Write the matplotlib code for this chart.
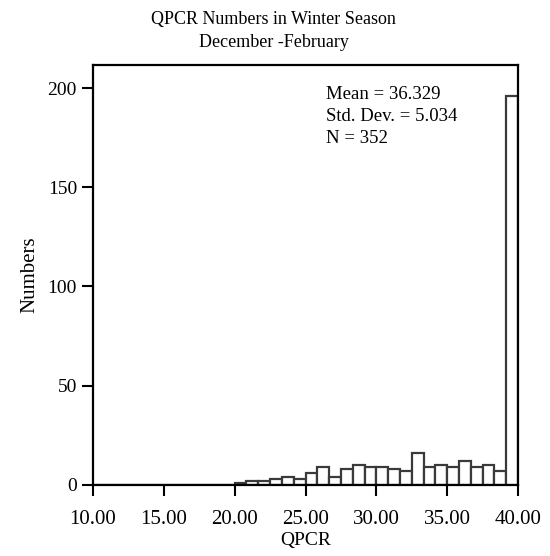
import numpy as np
import matplotlib
matplotlib.use("Agg")
import matplotlib.pyplot as plt

plt.rcParams['font.family'] = ['Liberation Serif', 'DejaVu Serif']

# Histogram: 36 bins from 10 to 40
bin_start = 10.0
bin_end = 40.0
n_bins = 36
counts = [0, 0, 0, 0, 0, 0, 0, 0, 0, 0, 0, 0,
          1, 2, 2, 3, 4, 3,
          6, 9, 4, 8, 10, 9, 9, 8, 7, 16, 9, 10, 9, 12, 9, 10, 7,
          196]
xticks = [10, 15, 20, 25, 30, 35, 40]
xticklabels = ["10.00", "15.00", "20.00", "25.00", "30.00", "35.00", "40.00"]
yticks = [0, 50, 100, 150, 200]
title = "QPCR Numbers in Winter Season\nDecember -February"
stats_text = "Mean = 36.329\nStd. Dev. = 5.034\nN = 352"

edges = np.linspace(bin_start, bin_end, n_bins + 1)
width = edges[1] - edges[0]

fig = plt.figure(figsize=(5.5, 5.56), dpi=100)
ax = fig.add_axes([0.169, 0.128, 0.773, 0.755])

ax.bar(edges[:-1], counts, width=width, align='edge', facecolor='white',
       edgecolor='#3a3a3a', linewidth=1.6)

ax.set_xlim(10, 40)
ax.set_ylim(0, 211.6)
ax.set_xticks(xticks)
ax.set_xticklabels(xticklabels)
ax.set_yticks(yticks)
ax.tick_params(axis='both', direction='out', length=8, width=1.5, labelsize=15,
               color='black')
ax.tick_params(axis='y', labelsize=14)
ax.tick_params(axis='x', pad=10)
for s in ax.spines.values():
    s.set_linewidth(1.6)
    s.set_color('black')

ax.set_xlabel("QPCR", fontsize=14, labelpad=2)
ax.set_ylabel("Numbers", fontsize=15, labelpad=6)
fig.text(0.498, 0.944, title, ha='center', va='center', fontsize=13,
         linespacing=1.45)
ax.text(0.548, 0.95, stats_text, transform=ax.transAxes, ha='left', va='top',
        fontsize=13.5, linespacing=1.4)

fig.savefig("out.png", dpi=100)
